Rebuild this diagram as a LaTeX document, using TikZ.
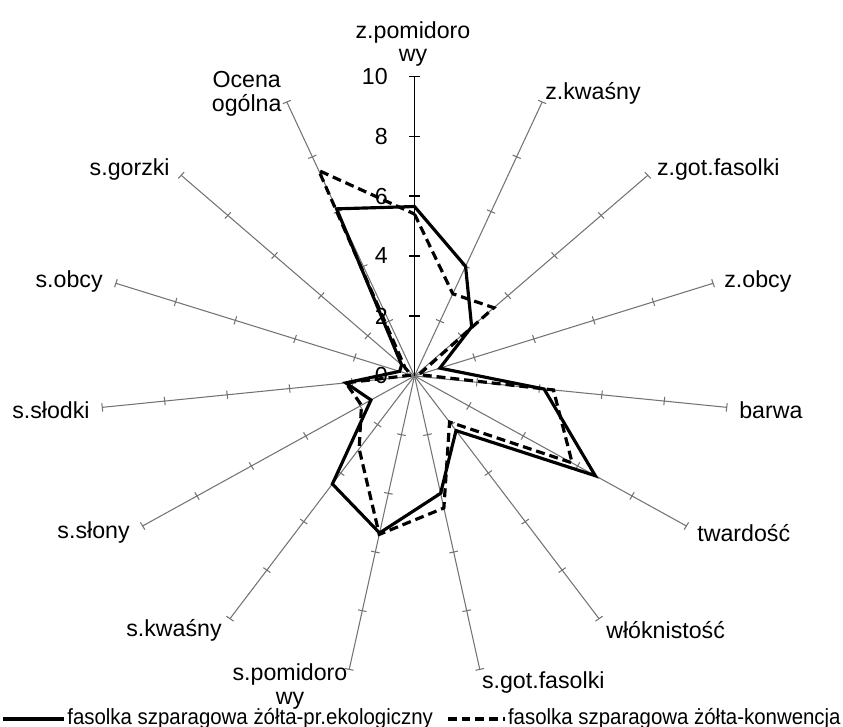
\documentclass[tikz,border=0pt]{standalone}
\usepackage{fontspec}
\usepackage{graphicx}
\setmainfont{Liberation Sans}

\tikzset{
  every node/.style={font=\fontsize{13.2}{13.5}\selectfont, inner sep=0pt, align=center},
  spoke/.style={draw=black!55, line width=0.6pt},
  mainspoke/.style={draw=black, line width=0.6pt},
  ecoline/.style={line width=1.8pt, line join=miter},
  convline/.style={line width=1.8pt, dash pattern=on 5.1pt off 2.8pt},
  legtext/.style={font=\fontsize{12.5}{13.5}\selectfont},
}

\begin{document}
\begin{tikzpicture}[x=0.02cm, y=0.02cm]
			\useasboundingbox (0,0) rectangle (843,727);
			\coordinate (O) at (414.5,351);
			
			\begin{scope}[shift={(O)}, x=0.628cm, y=0.6cm]
				% Spokes with their tick marks
				\foreach \k in {1,...,14} {
					\pgfmathsetmacro\ang{90-24*\k}
					\draw[spoke] (0,0) -- (\ang:10) coordinate (end\k);
					\foreach \v in {2,4,...,10}
						\draw[spoke] ([shift={(\ang+90:0.14)}]\ang:\v) -- ([shift={(\ang-90:0.14)}]\ang:\v);
				}
				
				% Value axis (top spoke) with numbers
				\draw[mainspoke] (0,0) -- (0,10) coordinate (end0);
				\foreach \v in {2,4,...,10}
					\draw[mainspoke] (-0.16,\v) -- (0.16,\v);
				\foreach \v in {0,2,...,10}
					\node[anchor=east] (num\v) at (-0.84,\v) {\v};
				
				% Data points of both series
				\foreach \v [count=\i from 0] in {5.65,4.0,2.45,0.85,4.15,6.65,2.25,4.0,5.35,4.45,1.6,2.2,0.5,0.55,6.1}
					\coordinate (eco\i) at ({90-24*\i}:\v);
				\foreach \v [count=\i from 0] in {5.4,3.0,3.4,0.15,4.45,5.8,1.9,4.5,5.4,3.0,1.95,2.2,0.1,0.4,7.5}
					\coordinate (conv\i) at ({90-24*\i}:\v);
				
				% Series outlines
				\draw[ecoline] (eco0) \foreach \i in {1,...,14} {-- (eco\i)} -- cycle;
				\draw[convline] (conv0) \foreach \i in {1,...,14} {-- (conv\i)} -- cycle;
			\end{scope}
			
			% Spoke labels
			\node (lab0) at (413,683) {z.pomidoro\\wy};
			\node[anchor=west] (lab1) at (545,634) {z.kwaśny};
			\node[anchor=west] (lab2) at (656.7,557) {z.got.fasolki};
			\node[anchor=west] (lab3) at (724,445.3) {z.obcy};
			\node[anchor=west] (lab4) at (739,317) {barwa};
			\node[anchor=west] (lab5) at (697,194) {twardość};
			\node[anchor=west] (lab6) at (606,97) {włóknistość};
			\node[anchor=west] (lab7) at (481.7,44) {s.got.fasolki};
			\node (lab8) at (290,40.5) {s.pomidoro\\wy};
			\node[anchor=east] (lab9) at (222,97) {s.kwaśny};
			\node[anchor=east] (lab10) at (130,194) {s.słony};
			\node[anchor=east] (lab11) at (90,317) {s.słodki};
			\node[anchor=east] (lab12) at (103,445.3) {s.obcy};
			\node[anchor=east] (lab13) at (170,557) {s.gorzki};
			\node (lab14) at (246.7,633) {Ocena\\ogólna};
			
			% Legend
			\node[legtext, anchor=west] (leg1) at (67,8) {\scalebox{0.93}[1]{fasolka szparagowa żółta-pr.ekologiczny}};
			\draw[ecoline] (leg1.west) ++(-64,0) -- ++(61,0);
			\node[legtext, anchor=east] (leg2) at (841,8) {\scalebox{0.93}[1]{fasolka szparagowa żółta-konwencja}};
			\draw[convline] (leg2.west) ++(-60,0) -- ++(57,0);
		\end{tikzpicture}
\end{document}
